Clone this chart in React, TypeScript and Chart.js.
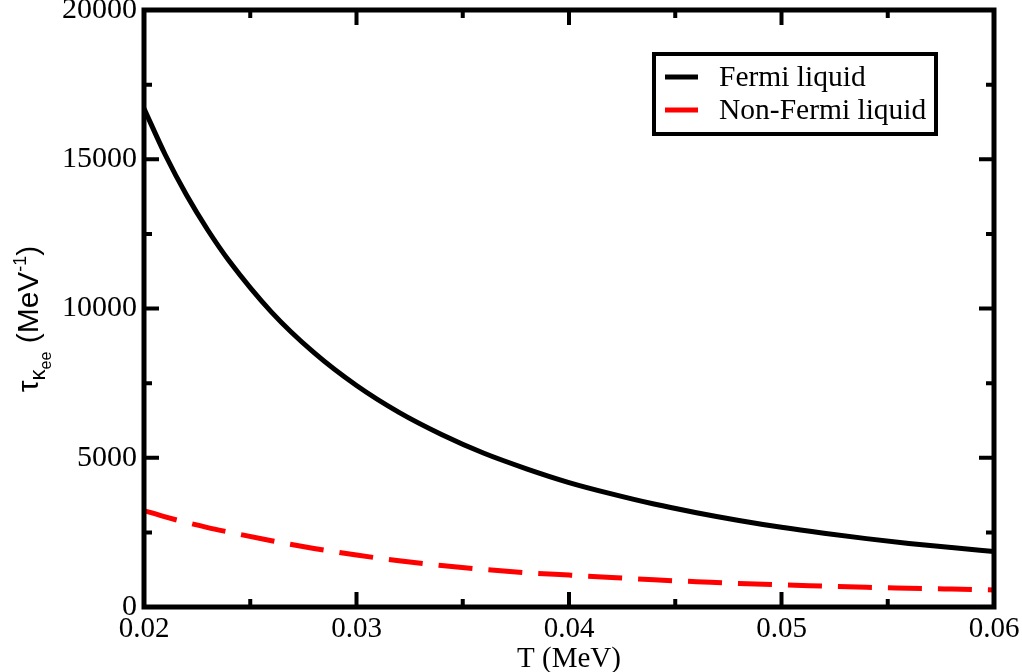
import React, { useEffect, useRef } from 'react';
import { Chart, registerables } from 'chart.js';

Chart.register(...registerables);

// temperatures (MeV)
const temps = [0.02, 0.021, 0.022, 0.023, 0.024, 0.026, 0.028, 0.03, 0.032, 0.034, 0.036, 0.038, 0.04, 0.042, 0.044, 0.046, 0.048, 0.05, 0.052, 0.054, 0.056, 0.058, 0.06];
// tau (MeV^-1)
const fermiLiquid = [16700, 15150, 13800, 12630, 11600, 9880, 8520, 7420, 6520, 5780, 5150, 4630, 4170, 3790, 3450, 3160, 2900, 2670, 2470, 2290, 2130, 1990, 1860];
const nonFermiLiquid = [3230, 3020, 2830, 2660, 2510, 2220, 1960, 1740, 1550, 1390, 1260, 1150, 1070, 990, 910, 850, 790, 740, 700, 660, 630, 600, 570];
const seriesNames = ['Fermi liquid', 'Non-Fermi liquid'];

const serif = '"Liberation Serif", "DejaVu Serif", serif';
const sans = '"Liberation Sans", Arial, sans-serif';

const framePlugin = {
  id: 'xmgraceFrame',
  afterDraw(chart: any) {
    const { ctx, chartArea: a, scales } = chart;
    const xs = scales.x;
    const ys = scales.y;
    ctx.save();
    ctx.strokeStyle = '#000';
    ctx.lineCap = 'butt';

    // inward ticks on all four sides
    ctx.lineWidth = 4;
    for (let v = 0; v <= 20000; v += 2500) {
      const len = v % 5000 === 0 ? 15 : 8;
      const py = ys.getPixelForValue(v);
      ctx.beginPath();
      ctx.moveTo(a.left, py); ctx.lineTo(a.left + len, py);
      ctx.moveTo(a.right, py); ctx.lineTo(a.right - len, py);
      ctx.stroke();
    }
    for (let i = 0; i <= 8; i++) {
      const v = 0.02 + i * 0.005;
      const len = i % 2 === 0 ? 15 : 8;
      const px = xs.getPixelForValue(v);
      ctx.beginPath();
      ctx.moveTo(px, a.bottom); ctx.lineTo(px, a.bottom - len);
      ctx.moveTo(px, a.top); ctx.lineTo(px, a.top + len);
      ctx.stroke();
    }

    // frame
    ctx.lineWidth = 5;
    ctx.strokeRect(a.left, a.top, a.right - a.left, a.bottom - a.top);

    // x title
    ctx.fillStyle = '#000';
    ctx.font = `29px ${serif}`;
    ctx.textAlign = 'center';
    ctx.textBaseline = 'alphabetic';
    ctx.fillText('T (MeV)', (a.left + a.right) / 2, 667);

    // y title with sub/superscripts
    ctx.save();
    ctx.translate(38, 319);
    ctx.rotate(-Math.PI / 2);
    const parts: [string, number, number][] = [
      ['τ', 30, 0],
      ['κ', 22, 7],
      ['ee', 16, 13],
      [' (MeV', 30, 0],
      ['-1', 18, -12],
      [')', 30, 0],
    ];
    let total = 0;
    parts.forEach(([t, s]) => { ctx.font = `${s}px ${sans}`; total += ctx.measureText(t).width; });
    let cx = -total / 2;
    ctx.textAlign = 'left';
    parts.forEach(([t, s, dy]) => {
      ctx.font = `${s}px ${sans}`;
      ctx.fillText(t, cx, dy);
      cx += ctx.measureText(t).width;
    });
    ctx.restore();

    // legend box
    ctx.lineWidth = 4;
    ctx.strokeRect(654, 54, 282, 80);
    const rows = [77, 110];
    chart.data.datasets.forEach((ds: any, i: number) => {
      ctx.strokeStyle = ds.borderColor;
      ctx.lineWidth = 5;
      ctx.beginPath();
      ctx.moveTo(665, rows[i]);
      ctx.lineTo(698, rows[i]);
      ctx.stroke();
      ctx.fillStyle = '#000';
      ctx.font = `29.5px ${serif}`;
      ctx.textAlign = 'left';
      ctx.textBaseline = 'middle';
      ctx.fillText(ds.label, 719, rows[i] + 1);
    });
    ctx.restore();
  },
};

const App: React.FC = () => {
  const chartRef = useRef<HTMLCanvasElement>(null);

  useEffect(() => {
    const config: any = {
      type: 'line',
      data: {
        datasets: [
          {
            label: seriesNames[0],
            data: temps.map((t, i) => ({ x: t, y: fermiLiquid[i] })),
            borderColor: '#000000',
            borderWidth: 5,
            cubicInterpolationMode: 'monotone',
            pointRadius: 0,
          },
          {
            label: seriesNames[1],
            data: temps.map((t, i) => ({ x: t, y: nonFermiLiquid[i] })),
            borderColor: '#ff0000',
            borderWidth: 5,
            borderDash: [34, 16],
            cubicInterpolationMode: 'monotone',
            pointRadius: 0,
          },
        ],
      },
      options: {
        animation: false,
        responsive: true,
        maintainAspectRatio: false,
        layout: { padding: { top: 10, right: 28, left: 0, bottom: 0 } },
        plugins: {
          legend: { display: false },
          tooltip: { enabled: false },
        },
        scales: {
          x: {
            type: 'linear',
            min: 0.02,
            max: 0.06,
            grid: { display: false, drawTicks: false },
            border: { display: false },
            afterFit: (s: any) => { s.height = 65; s.paddingLeft = 0; s.paddingRight = 0; },
            ticks: {
              stepSize: 0.01,
              padding: 5,
              color: '#000',
              font: { family: serif, size: 29 },
              callback: (v: number) => v.toFixed(2),
            },
          },
          y: {
            min: 0,
            max: 20000,
            grid: { display: false, drawTicks: false },
            border: { display: false },
            afterFit: (s: any) => { s.width = 144; s.paddingTop = 0; s.paddingBottom = 0; },
            ticks: {
              stepSize: 5000,
              padding: 7,
              color: '#000',
              font: { family: serif, size: 30 },
              callback: (v: number) => String(v),
            },
          },
        },
      },
      plugins: [framePlugin],
    };

    const myChart = new Chart(chartRef.current as HTMLCanvasElement, config);
    return () => {
      myChart.destroy();
    };
  }, []);

  return (
    <div style={{ position: 'absolute', left: 0, top: 0, width: 1022, height: 672, background: '#fff' }}>
      <canvas ref={chartRef}></canvas>
    </div>
  );
};

export default App;
